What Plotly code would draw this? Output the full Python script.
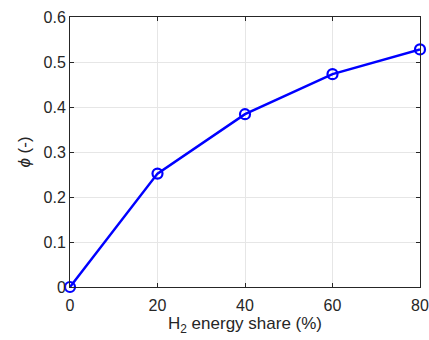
import plotly.graph_objects as go

# H2 energy share (%) and corresponding phi values
h2_share = [0, 20, 40, 60, 80]
phi = [0.0, 0.252, 0.384, 0.473, 0.528]

x_ticks = [0, 20, 40, 60, 80]
y_ticks = [0, 0.1, 0.2, 0.3, 0.4, 0.5, 0.6]
y_tick_text = ["0", "0.1", "0.2", "0.3", "0.4", "0.5", "0.6"]

axis_color = "#262626"
font_family = "Liberation Sans, Arial, sans-serif"

fig = go.Figure()
fig.add_trace(go.Scatter(
    x=h2_share, y=phi,
    mode="lines+markers",
    line=dict(color="#0000ff", width=2.5),
    marker=dict(symbol="circle-open", size=10, color="#0000ff",
                line=dict(color="#0000ff", width=2.2)),
    cliponaxis=False,
    showlegend=False,
))

common_axis = dict(
    showline=True, linecolor=axis_color, linewidth=1, mirror="ticks",
    ticks="inside", ticklen=4, tickcolor=axis_color, tickwidth=1,
    showgrid=True, gridcolor="#e6e6e6", gridwidth=1,
    zeroline=False, automargin=False,
    tickfont=dict(family=font_family, size=16, color=axis_color),
)

fig.update_layout(
    width=429, height=340,
    margin=dict(l=70, r=9, t=17, b=53),
    paper_bgcolor="white", plot_bgcolor="white",
    font=dict(family=font_family, color=axis_color),
    xaxis=dict(
        range=[0, 80], tickvals=x_ticks, ticklabelstandoff=4,
        title=dict(text="H<sub>2</sub> energy share (%)",
                   font=dict(family=font_family, size=17, color=axis_color),
                   standoff=3),
        **common_axis,
    ),
    yaxis=dict(
        range=[0, 0.6], tickvals=y_ticks, ticktext=y_tick_text,
        title=dict(text="<i>ϕ</i> (-)",
                   font=dict(family=font_family, size=17, color=axis_color),
                   standoff=8),
        **common_axis,
    ),
)

fig.write_html("out.html")
